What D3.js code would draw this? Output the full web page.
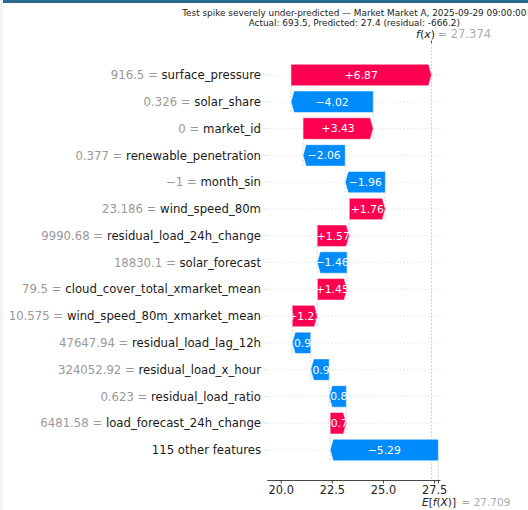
<!DOCTYPE html>
<html>
<head>
<meta charset="utf-8">
<script src="https://cdn.jsdelivr.net/npm/d3@7"></script>
<style>
  html, body { margin: 0; padding: 0; background: #fff; }
  svg { display: block; font-family: "DejaVu Sans", sans-serif; }
</style>
</head>
<body>
<svg id="chart" width="528" height="510"></svg>
<script>
// Waterfall of SHAP contributions for one prediction (top row drawn first).
const featureNames = [
  "surface_pressure", "solar_share", "market_id", "renewable_penetration",
  "month_sin", "wind_speed_80m", "residual_load_24h_change", "solar_forecast",
  "cloud_cover_total_xmarket_mean", "wind_speed_80m_xmarket_mean",
  "residual_load_lag_12h", "residual_load_x_hour", "residual_load_ratio",
  "load_forecast_24h_change", "115 other features"
];
const featureValues = [
  "916.5", "0.326", "0", "0.377", "\u22121", "23.186", "9990.68", "18830.1",
  "79.5", "10.575", "47647.94", "324052.92", "0.623", "6481.58", ""
];
const shapValues = [
  6.87, -4.02, 3.43, -2.06, -1.96, 1.76, 1.57, -1.46,
  1.45, 1.23, -0.905, -0.90, -0.84, 0.79, -5.29
];
const baseValue = 27.709;   // E[f(X)]
const fxValue = 27.374;     // f(x)
const xTickValues = [20.0, 22.5, 25.0, 27.5];
const titleLines = [
  "Test spike severely under-predicted \u2014 Market Market A, 2025-09-29 09:00:00",
  "Actual: 693.5, Predicted: 27.4 (residual: -666.2)"
];

const RED = "#ff0051", BLUE = "#008bfb";
const svg = d3.select("#chart");

// window chrome strips
svg.append("rect").attr("x", 0).attr("y", 0).attr("width", 3).attr("height", 510).attr("fill", "#f3f3f3");
svg.append("rect").attr("x", 3).attr("y", 0).attr("width", 525).attr("height", 3).attr("fill", "#2d6a92");

// layout
const plotLeft = 266.7, plotRight = 441.5, plotTop = 43, plotBottom = 480;
const n = featureNames.length;
const x = d3.scaleLinear().domain([20, 27.5]).range([280.7, 434.1]);
const y = d3.scaleLinear().domain([0, n - 1]).range([75, 450]);
const rowStep = y(1) - y(0);
const barH = rowStep * 0.8;
const headLen = 3;

// cumulative starts, built from the bottom row (base value) upward
const starts = new Array(n), ends = new Array(n);
let acc = baseValue;
for (let i = n - 1; i >= 0; i--) {
  starts[i] = acc;
  acc += shapValues[i];
  ends[i] = acc;
}

// horizontal row guides
svg.append("g").selectAll("line").data(featureNames).join("line")
  .attr("x1", plotLeft).attr("x2", plotRight)
  .attr("y1", (d, i) => y(i)).attr("y2", (d, i) => y(i))
  .attr("stroke", "#cccccc").attr("stroke-width", 0.7)
  .attr("stroke-dasharray", "1,2.6");

// f(x) and E[f(X)] reference lines
svg.append("line")
  .attr("x1", x(fxValue)).attr("x2", x(fxValue))
  .attr("y1", plotTop).attr("y2", plotBottom)
  .attr("stroke", "#bbbbbb").attr("stroke-width", 0.7).attr("stroke-dasharray", "2,1.5");
svg.append("line")
  .attr("x1", x(baseValue)).attr("x2", x(baseValue))
  .attr("y1", plotBottom - (plotBottom - plotTop) / n).attr("y2", plotBottom)
  .attr("stroke", "#bbbbbb").attr("stroke-width", 0.7).attr("stroke-dasharray", "2,1.5");

// connectors between consecutive bars
svg.append("g").selectAll("line").data(d3.range(n - 1)).join("line")
  .attr("x1", i => x(starts[i])).attr("x2", i => x(starts[i]))
  .attr("y1", i => y(i) - barH / 2).attr("y2", i => y(i + 1) + barH / 2)
  .attr("stroke", "#bbbbbb").attr("stroke-width", 0.6).attr("stroke-dasharray", "2,1.5");

// arrow-shaped bars
function arrowPoints(i) {
  const x0 = x(starts[i]), x1 = x(ends[i]), yc = y(i);
  const dir = x1 >= x0 ? 1 : -1;
  const hl = Math.min(headLen, Math.abs(x1 - x0));
  const t = yc - barH / 2, b = yc + barH / 2;
  return [[x0, t], [x1 - dir * hl, t], [x1, yc], [x1 - dir * hl, b], [x0, b]]
    .map(p => p.join(",")).join(" ");
}
const defs = svg.append("defs");
defs.selectAll("clipPath").data(d3.range(n)).join("clipPath")
  .attr("id", i => "bar-clip-" + i)
  .append("polygon").attr("points", arrowPoints);

const bars = svg.append("g");
bars.selectAll("polygon").data(d3.range(n)).join("polygon")
  .attr("points", arrowPoints)
  .attr("fill", i => shapValues[i] >= 0 ? RED : BLUE)
  .attr("stroke", "#fff").attr("stroke-width", 0.5);

const fmtSigned = v => d3.format("+.2f")(v).replace("-", "\u2212");
bars.selectAll("text").data(d3.range(n)).join("text")
  .attr("clip-path", i => `url(#bar-clip-${i})`)
  .attr("x", i => (x(starts[i]) + x(ends[i])) / 2)
  .attr("y", i => y(i))
  .attr("dy", "0.36em")
  .attr("text-anchor", "middle")
  .attr("font-size", 10.8)
  .attr("fill", "#fff")
  .text(i => fmtSigned(shapValues[i]));

// y tick labels: "value = name"
const ylab = svg.append("g");
featureNames.forEach((name, i) => {
  const t = ylab.append("text")
    .attr("x", 261).attr("y", y(i)).attr("dy", "0.36em")
    .attr("text-anchor", "end").attr("font-size", 11.7);
  if (featureValues[i] !== "") {
    t.append("tspan").attr("fill", "#999999").text(featureValues[i] + " = ");
  }
  t.append("tspan").attr("fill", "#1a1a1a").text(name);
  ylab.append("line")
    .attr("x1", 263).attr("x2", 266.7).attr("y1", y(i)).attr("y2", y(i))
    .attr("stroke", "#dddddd").attr("stroke-width", 0.8);
});

// bottom axis
const axisScale = x.copy().domain([x.invert(plotLeft), x.invert(440)]).range([plotLeft, 440]);
const xAxis = svg.append("g")
  .attr("transform", `translate(0,${plotBottom})`)
  .call(d3.axisBottom(axisScale).tickValues(xTickValues).tickFormat(d3.format(".1f"))
    .tickSizeOuter(0).tickSizeInner(3.5).tickPadding(2.5));
xAxis.select(".domain").attr("stroke", "#333").attr("stroke-width", 0.9);
xAxis.selectAll(".tick line").attr("stroke", "#333").attr("stroke-width", 0.9);
xAxis.selectAll(".tick text").attr("font-size", 11.4).attr("fill", "#222")
  .attr("font-family", "DejaVu Sans, sans-serif");

// E[f(X)] tick and label
svg.append("line")
  .attr("x1", x(baseValue)).attr("x2", x(baseValue))
  .attr("y1", plotBottom).attr("y2", plotBottom + 3.5)
  .attr("stroke", "#333").attr("stroke-width", 0.9);
svg.append("text")
  .attr("x", 456).attr("y", 506).attr("text-anchor", "end")
  .attr("font-size", 10.5).attr("fill", "#222")
  .html('<tspan font-style="italic">E</tspan>[<tspan font-style="italic">f</tspan>(<tspan font-style="italic">X</tspan>)]');
svg.append("text")
  .attr("x", 461.5).attr("y", 506).attr("font-size", 10.5).attr("fill", "#aaaaaa")
  .text("= " + d3.format(".3f")(baseValue));

// f(x) tick and label
svg.append("line")
  .attr("x1", x(fxValue)).attr("x2", x(fxValue))
  .attr("y1", plotTop - 2.5).attr("y2", plotTop)
  .attr("stroke", "#333").attr("stroke-width", 0.9);
svg.append("text")
  .attr("x", 435).attr("y", 37.5).attr("text-anchor", "end")
  .attr("font-size", 11).attr("fill", "#222")
  .html('<tspan font-style="italic">f</tspan>(<tspan font-style="italic">x</tspan>)');
svg.append("text")
  .attr("x", 437.5).attr("y", 37.5).attr("font-size", 11.5).attr("fill", "#aaaaaa")
  .text("= " + d3.format(".3f")(fxValue));

// title
svg.append("g").selectAll("text").data(titleLines).join("text")
  .attr("x", 354.3).attr("y", (d, i) => 15.5 + i * 10)
  .attr("text-anchor", "middle").attr("font-size", 8.9).attr("fill", "#222")
  .text(d => d);
</script>
</body>
</html>
